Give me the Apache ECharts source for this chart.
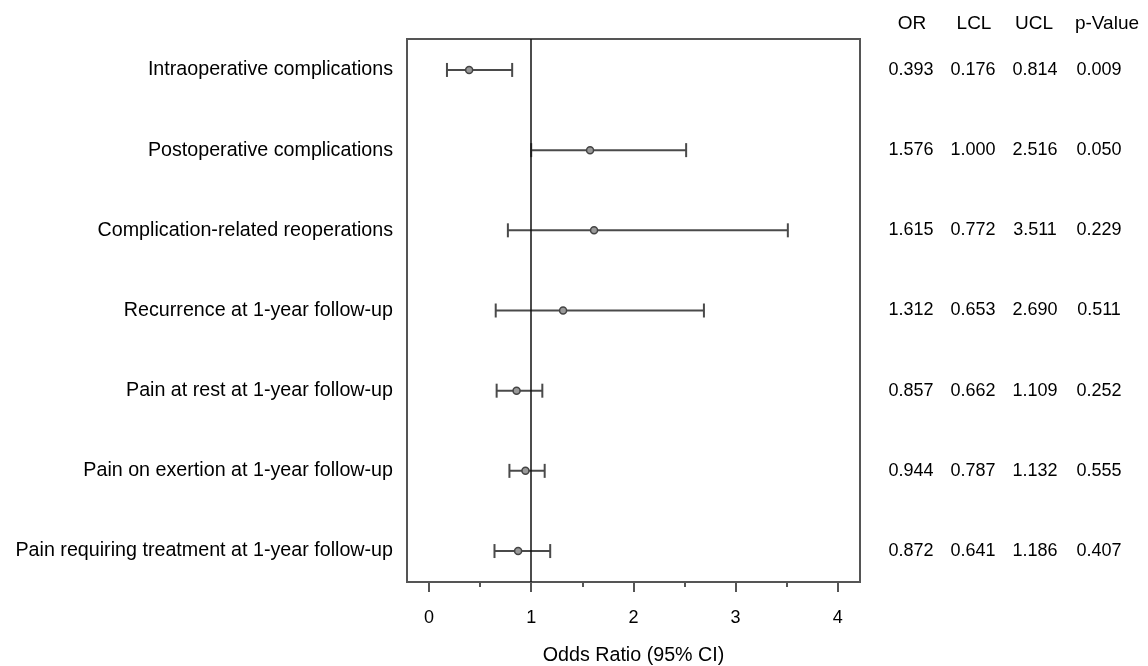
<!DOCTYPE html>
<html>
<head>
<meta charset="utf-8">
<script src="https://cdn.jsdelivr.net/npm/echarts@6/dist/echarts.min.js"></script>
<style>html,body{margin:0;padding:0;background:#fff}#c{width:1148px;height:666px}</style>
</head>
<body>
<div id="c"></div>
<script>
var categories = [
  "Intraoperative complications",
  "Postoperative complications",
  "Complication-related reoperations",
  "Recurrence at 1-year follow-up",
  "Pain at rest at 1-year follow-up",
  "Pain on exertion at 1-year follow-up",
  "Pain requiring treatment at 1-year follow-up"
];
var orValues = [0.393, 1.576, 1.615, 1.312, 0.857, 0.944, 0.872];
var lclValues = [0.176, 1.000, 0.772, 0.653, 0.662, 0.787, 0.641];
var uclValues = [0.814, 2.516, 3.511, 2.690, 1.109, 1.132, 1.186];
var pValues = [0.009, 0.050, 0.229, 0.511, 0.252, 0.555, 0.407];
var colHeaders = ["OR", "LCL", "UCL", "p-Value"];
var xTicks = [0, 1, 2, 3, 4];
var xMinorTicks = [0.5, 1.5, 2.5, 3.5];
var refValue = 1;

var FONT = "Liberation Sans";
var TXT = 19.7;
var NUM = 18;
var rowIdx = categories.map(function (_, i) { return i; });
var colCenters = [911, 973, 1035, 1099];
var headerCenters = [912, 974, 1034, 1107];

var chart = echarts.init(document.getElementById('c'), null, {renderer: 'canvas'});

var barData = rowIdx.map(function (i) { return [lclValues[i], uclValues[i], i]; });
var pointData = rowIdx.map(function (i) { return [orValues[i], i]; });

function fmt(v) { return v.toFixed(3); }
function cell(w) { return {width: w, align: 'center', fontSize: NUM, fontFamily: FONT, color: '#000'}; }

var option = {
  animation: false,
  backgroundColor: '#fff',
  textStyle: {fontFamily: FONT},
  grid: {left: 407, right: 288, top: 39, bottom: 84, show: true, borderColor: '#555', borderWidth: 2, backgroundColor: 'transparent', outerBoundsMode: 'none', containLabel: false},
  xAxis: [{
    type: 'value', min: -0.215, max: 4.217, position: 'bottom',
    axisLine: {show: false, onZero: false},
    splitLine: {show: false},
    axisTick: {show: true, inside: false, customValues: xTicks, length: 10, lineStyle: {color: '#555', width: 2}},
    axisLabel: {customValues: xTicks, margin: 27, fontSize: NUM, color: '#000', fontFamily: FONT},
    name: 'Odds Ratio (95% CI)', nameLocation: 'middle', nameGap: 64,
    nameTextStyle: {fontSize: TXT, color: '#000', fontFamily: FONT}
  }, {
    type: 'value', min: -0.215, max: 4.217, position: 'bottom',
    axisLine: {show: false, onZero: false}, splitLine: {show: false},
    axisTick: {show: true, inside: false, customValues: xMinorTicks, length: 5, lineStyle: {color: '#555', width: 2}},
    axisLabel: {show: false}
  }],
  yAxis: [{
    type: 'value', min: -0.386, max: 6.386, inverse: true,
    axisLine: {show: false, onZero: false}, axisTick: {show: false}, splitLine: {show: false},
    axisLabel: {
      customValues: rowIdx, margin: 14, fontSize: TXT, color: '#000', fontFamily: FONT,
      formatter: function (v) { return categories[Math.round(v)] || ''; }
    }
  }, {
    type: 'value', min: -0.386, max: 6.386, inverse: true, position: 'right',
    axisLine: {show: false, onZero: false}, axisTick: {show: false}, splitLine: {show: false},
    axisLabel: {
      customValues: rowIdx, margin: colCenters[0] - 31 - 860, fontSize: NUM, color: '#000', fontFamily: FONT, align: 'left',
      formatter: function (v) {
        var i = Math.round(v);
        return '{a|' + fmt(orValues[i]) + '}{b|' + fmt(lclValues[i]) + '}{c|' + fmt(uclValues[i]) + '}{d|' + fmt(pValues[i]) + '}';
      },
      rich: {
        a: cell(62),
        b: cell(62),
        c: cell(62),
        d: cell(66)
      }
    }
  }],
  graphic: colHeaders.map(function (h, k) {
    return {type: 'text', x: headerCenters[k], y: 24, style: {text: h, fontSize: 19, fontFamily: FONT, fill: '#000', align: 'center', verticalAlign: 'middle'}};
  }),
  series: [{
    type: 'custom',
    xAxisIndex: 0, yAxisIndex: 0,
    data: barData,
    encode: {x: [0, 1], y: 2},
    renderItem: function (params, api) {
      var a = api.coord([api.value(0), api.value(2)]);
      var b = api.coord([api.value(1), api.value(2)]);
      var h = 7;
      var st = {stroke: '#4a4a4a', lineWidth: 2};
      return {type: 'group', children: [
        {type: 'line', shape: {x1: a[0], y1: a[1], x2: b[0], y2: b[1]}, style: st},
        {type: 'line', shape: {x1: a[0], y1: a[1] - h, x2: a[0], y2: a[1] + h}, style: st},
        {type: 'line', shape: {x1: b[0], y1: b[1] - h, x2: b[0], y2: b[1] + h}, style: st}
      ]};
    },
    z: 2
  }, {
    type: 'scatter',
    xAxisIndex: 0, yAxisIndex: 0,
    data: pointData,
    symbol: 'circle', symbolSize: 7,
    itemStyle: {color: '#999', borderColor: '#444', borderWidth: 1.5, opacity: 1},
    z: 4,
    markLine: {
      silent: true, symbol: ['none', 'none'], label: {show: false},
      lineStyle: {color: '#111', width: 1.5, type: 'solid'},
      data: [{xAxis: refValue}]
    }
  }]
};
chart.setOption(option);
</script>
</body>
</html>
